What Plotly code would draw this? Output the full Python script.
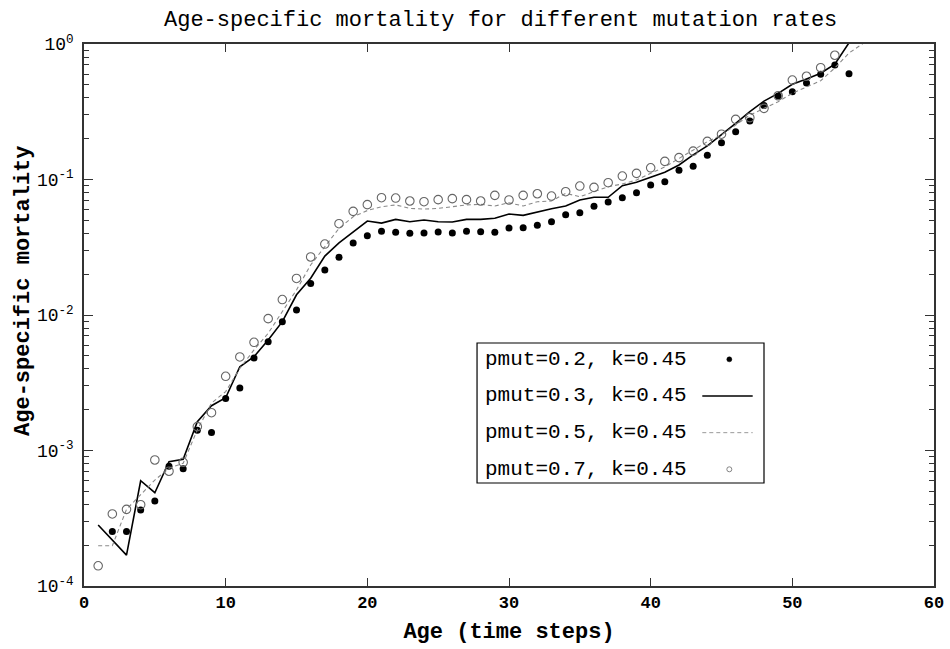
import plotly.graph_objects as go

# ---------------- data ----------------
age_p02 = list(range(2, 55))
mort_p02 = [2.53e-4, 2.53e-4, 3.64e-4, 4.24e-4, 7.64e-4, 7.34e-4, 1.41e-3, 1.36e-3,
            2.42e-3, 2.89e-3, 4.82e-3, 6.35e-3, 8.93e-3, 1.09e-2, 1.71e-2, 2.15e-2,
            2.67e-2, 3.40e-2, 3.85e-2, 4.15e-2, 4.08e-2, 4.01e-2, 4.03e-2, 4.10e-2,
            4.03e-2, 4.15e-2, 4.12e-2, 4.08e-2, 4.39e-2, 4.41e-2, 4.59e-2, 4.88e-2,
            5.50e-2, 5.69e-2, 6.34e-2, 6.82e-2, 7.34e-2, 8.00e-2, 9.10e-2, 9.64e-2,
            0.117, 0.125, 0.151, 0.187, 0.225, 0.270, 0.351, 0.413, 0.445, 0.515,
            0.597, 0.700, 0.604]

age_p03 = list(range(1, 55))
mort_p03 = [2.82e-4, 2.18e-4, 1.69e-4, 5.98e-4, 4.88e-4, 8.27e-4, 8.61e-4, 1.63e-3,
            2.14e-3, 2.45e-3, 4.15e-3, 4.92e-3, 6.53e-3, 8.93e-3, 1.41e-2, 1.87e-2,
            2.72e-2, 3.40e-2, 4.12e-2, 4.94e-2, 4.77e-2, 5.08e-2, 4.88e-2, 5.02e-2,
            4.88e-2, 4.86e-2, 5.08e-2, 5.08e-2, 5.17e-2, 5.56e-2, 5.44e-2, 5.79e-2,
            6.09e-2, 6.37e-2, 7.06e-2, 7.39e-2, 7.39e-2, 9.00e-2, 9.53e-2, 0.104,
            0.113, 0.128, 0.152, 0.177, 0.213, 0.260, 0.317, 0.379, 0.432, 0.504,
            0.552, 0.608, 0.711, 1.02]

age_p05 = list(range(1, 56))
mort_p05 = [1.98e-4, 1.98e-4, 3.68e-4, 4.70e-4, 6.05e-4, 7.39e-4, 8.05e-4, 1.42e-3,
            2.24e-3, 2.72e-3, 4.04e-3, 5.52e-3, 7.33e-3, 1.06e-2, 1.53e-2, 2.34e-2,
            3.19e-2, 4.36e-2, 5.31e-2, 5.90e-2, 6.30e-2, 6.49e-2, 6.12e-2, 6.05e-2,
            6.12e-2, 6.30e-2, 6.49e-2, 6.56e-2, 6.37e-2, 6.74e-2, 6.37e-2, 6.86e-2,
            6.94e-2, 7.91e-2, 7.46e-2, 8.13e-2, 8.85e-2, 9.27e-2, 9.91e-2, 0.111,
            0.124, 0.143, 0.165, 0.190, 0.213, 0.252, 0.299, 0.335, 0.375, 0.433,
            0.484, 0.536, 0.665, 0.858, 1.01]

age_p07 = list(range(1, 54))
mort_p07 = [1.41e-4, 3.40e-4, 3.68e-4, 3.98e-4, 8.51e-4, 7.03e-4, 8.18e-4, 1.50e-3,
            1.90e-3, 3.53e-3, 4.90e-3, 6.29e-3, 9.40e-3, 1.30e-2, 1.86e-2, 2.68e-2,
            3.34e-2, 4.72e-2, 5.82e-2, 6.52e-2, 7.34e-2, 7.30e-2, 6.94e-2, 6.86e-2,
            7.10e-2, 7.22e-2, 7.10e-2, 6.94e-2, 7.64e-2, 7.06e-2, 7.64e-2, 7.85e-2,
            7.55e-2, 8.13e-2, 8.95e-2, 8.75e-2, 9.47e-2, 0.106, 0.111, 0.122, 0.136,
            0.145, 0.162, 0.191, 0.216, 0.278, 0.286, 0.335, 0.415, 0.542, 0.578,
            0.668, 0.826]

legend_labels = ["pmut=0.2, k=0.45", "pmut=0.3, k=0.45",
                 "pmut=0.5, k=0.45", "pmut=0.7, k=0.45"]

x_ticks = [0, 10, 20, 30, 40, 50, 60]
y_ticks = [1e-4, 1e-3, 1e-2, 1e-1, 1]
y_ticktext = ["10<sup>-4</sup>", "10<sup>-3</sup>", "10<sup>-2</sup>",
              "10<sup>-1</sup>", "10<sup>0</sup>"]
y_minor = [m * 10 ** e for e in range(-4, 0) for m in range(2, 10)]

FONT = "Liberation Mono, Courier New, monospace"

fig = go.Figure()
fig.add_trace(go.Scatter(x=age_p02, y=mort_p02, mode="markers", name=legend_labels[0],
                         marker=dict(symbol="circle", size=7, color="black"),
                         showlegend=False))
fig.add_trace(go.Scatter(x=age_p03, y=mort_p03, mode="lines", name=legend_labels[1],
                         line=dict(color="black", width=1.6), showlegend=False))
fig.add_trace(go.Scatter(x=age_p05, y=mort_p05, mode="lines", name=legend_labels[2],
                         line=dict(color="#8a8a8a", width=1.1, dash="4px,3px"),
                         showlegend=False))
fig.add_trace(go.Scatter(x=age_p07, y=mort_p07, mode="markers", name=legend_labels[3],
                         marker=dict(symbol="circle-open", size=8.5, color="#666666",
                                     line=dict(width=1.1)),
                         showlegend=False))

# ---- manual legend (text on the left, sample on the right, like the original) ----
L0, L1, T0, B0 = 0.4624, 0.80, 0.4483, 0.190
rows_y = [0.4182, 0.3506, 0.2829, 0.2153]
shapes = [dict(type="rect", xref="paper", yref="paper", x0=L0, x1=L1, y0=B0, y1=T0,
               line=dict(color="black", width=1.2), fillcolor="rgba(0,0,0,0)")]
sym_x = 0.7592
shapes.append(dict(type="circle", xref="paper", yref="paper", xsizemode="pixel",
                   ysizemode="pixel", xanchor=sym_x, yanchor=rows_y[0],
                   x0=-2.5, x1=2.5, y0=-2.5, y1=2.5,
                   fillcolor="black", line=dict(color="black", width=0.5)))
shapes.append(dict(type="line", xref="paper", yref="paper", x0=0.7274, x1=0.7867,
                   y0=rows_y[1], y1=rows_y[1], line=dict(color="black", width=1.6)))
shapes.append(dict(type="line", xref="paper", yref="paper", x0=0.7274, x1=0.7867,
                   y0=rows_y[2], y1=rows_y[2],
                   line=dict(color="#9a9a9a", width=1, dash="4px,3px")))
shapes.append(dict(type="circle", xref="paper", yref="paper", xsizemode="pixel",
                   ysizemode="pixel", xanchor=sym_x, yanchor=rows_y[3],
                   x0=-2.5, x1=2.5, y0=-2.5, y1=2.5,
                   fillcolor="rgba(0,0,0,0)", line=dict(color="#777777", width=0.9)))

annotations = []
for lab, yy in zip(legend_labels, rows_y):
    annotations.append(dict(text=lab, xref="paper", yref="paper", x=0.4694, y=yy,
                            xanchor="left", yanchor="middle", showarrow=False,
                            font=dict(family=FONT, size=21, color="black")))
annotations.append(dict(text="<b>Age-specific mortality</b>", xref="paper", yref="paper",
                        x=-0.072, y=0.544, xanchor="center", yanchor="middle",
                        textangle=-90, showarrow=False,
                        font=dict(family=FONT, size=22, color="black")))

fig.update_layout(
    width=950, height=649,
    margin=dict(l=84, r=16, t=44, b=63, autoexpand=False),
    paper_bgcolor="white", plot_bgcolor="white",
    title=dict(text="Age-specific mortality for different mutation rates",
               x=0.527, xref="container", xanchor="center",
               y=0.972, yref="container", yanchor="middle",
               font=dict(family=FONT, size=22, color="black")),
    font=dict(family=FONT, color="black"),
    shapes=shapes, annotations=annotations,
    showlegend=False,
)
fig.update_xaxes(range=[0, 60], tickvals=x_ticks, ticks="inside", ticklen=8,
                 tickwidth=1.2, tickcolor="#333", showline=True, linecolor="#333",
                 linewidth=1.5, mirror="ticks", showgrid=False, zeroline=False,
                 automargin=False,
                 tickfont=dict(family=FONT, size=17, color="black", weight="bold"),
                 title=dict(text="<b>Age (time steps)</b>", standoff=10,
                            font=dict(family=FONT, size=22, color="black")))
fig.update_yaxes(type="log", range=[-4, 0], tickvals=y_ticks, ticktext=y_ticktext,
                 ticks="inside", ticklen=9, tickwidth=1.2, tickcolor="#333",
                 showline=True, linecolor="#333", linewidth=1.5, mirror="ticks",
                 showgrid=False, zeroline=False, ticklabelstandoff=5,
                 automargin=False,
                 tickfont=dict(family=FONT, size=18, color="black"),
                 minor=dict(tickvals=y_minor, ticks="inside", ticklen=5,
                            tickwidth=1, tickcolor="#333", showgrid=False))

fig.write_html("out.html")
